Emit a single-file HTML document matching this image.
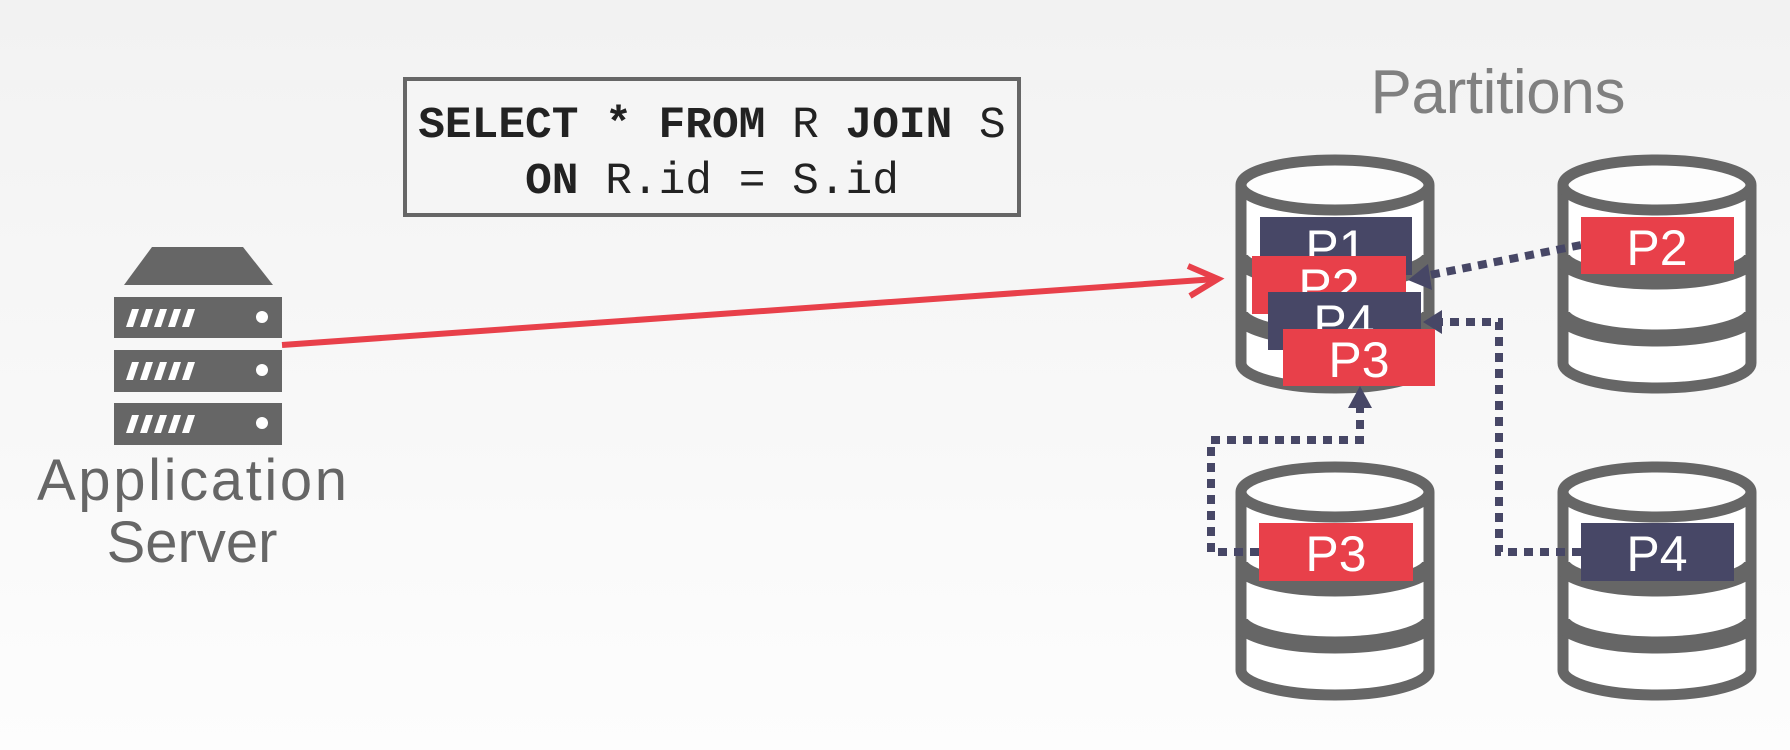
<!DOCTYPE html>
<html><head><meta charset="utf-8"><style>
html,body{margin:0;padding:0;}
body{width:1790px;height:750px;overflow:hidden;background:linear-gradient(#f2f2f2,#fdfdfd);}
svg{display:block;}
</style></head><body>
<svg width="1790" height="750" viewBox="0 0 1790 750">
<defs>
<clipPath id="cc"><rect x="-99.5" y="-40" width="199" height="260"/></clipPath>
<g id="cyl">
  <g clip-path="url(#cc)">
  <path d="M-94,0 L-94,178 A94,25 0 0 0 94,178 L94,0 Z" fill="#fff"/>
  <path d="M-94,0 L-94,178 M94,0 L94,178" stroke="#666" stroke-width="11" fill="none"/>
  <path d="M-96,70 A96,26 0 0 0 96,70" stroke="#666" stroke-width="17" fill="none"/>
  <path d="M-96,127 A96,26 0 0 0 96,127" stroke="#666" stroke-width="17" fill="none"/>
  <path d="M-94,178 A94,25 0 0 0 94,178" stroke="#666" stroke-width="11" fill="none"/>
  </g>
  <ellipse cx="0" cy="0" rx="94" ry="25" fill="#fdfdfd" stroke="#666" stroke-width="11"/>
</g>
</defs>

<g fill="#666">
  <polygon points="152,247 243,247 273,285 124,285"/>
  <rect x="114" y="297" width="168" height="41"/>
  <rect x="114" y="350" width="168" height="42"/>
  <rect x="114" y="403" width="168" height="42"/>
  <g fill="#fff">
    <g id="sl"><polygon points="132,309 139,309 133,327 126,327"/><polygon points="146,309 153,309 147,327 140,327"/><polygon points="160,309 167,309 161,327 154,327"/><polygon points="174,309 181,309 175,327 168,327"/><polygon points="188,309 195,309 189,327 182,327"/><circle cx="262" cy="317" r="6"/></g>
    <use href="#sl" y="53"/>
    <use href="#sl" y="106"/>
  </g>
</g>
<text x="192" y="500" text-anchor="middle" font-family="Liberation Sans, sans-serif" font-size="58" fill="#666" textLength="310">Application</text>
<text x="192" y="562" text-anchor="middle" font-family="Liberation Sans, sans-serif" font-size="58" fill="#666">Server</text>

<g stroke="#E8404A" stroke-width="6" fill="none">
  <line x1="282" y1="345" x2="1216" y2="279"/>
  <polyline points="1188,266 1218,279 1190,296"/>
</g>

<rect x="405" y="79" width="614" height="136" fill="#f5f5f5" stroke="#666" stroke-width="4"/>
<text x="712" y="137" text-anchor="middle" font-family="Liberation Mono, monospace" font-size="44.5" fill="#222"><tspan font-weight="bold">SELECT * FROM</tspan> R <tspan font-weight="bold">JOIN</tspan> S</text>
<text x="712" y="193" text-anchor="middle" font-family="Liberation Mono, monospace" font-size="44.5" fill="#222"><tspan font-weight="bold">ON</tspan> R.id = S.id</text>

<text x="1498" y="113" text-anchor="middle" font-family="Liberation Sans, sans-serif" font-size="62" fill="#808080" textLength="255">Partitions</text>

<use href="#cyl" x="1335" y="185"/>
<use href="#cyl" x="1657" y="185"/>
<use href="#cyl" x="1335" y="492"/>
<use href="#cyl" x="1657" y="492"/>

<g stroke="#474766" stroke-width="8" stroke-dasharray="9 7" fill="none">
  <line x1="1581" y1="245" x2="1420" y2="277"/>
  <polyline points="1581,552 1499,552 1499,322 1435,322"/>
  <polyline points="1259,552 1211,552 1211,440 1360,440 1360,405"/>
</g>
<g fill="#474766">
  <polygon points="1408,280 1428,264 1432,290"/>
  <polygon points="1423,322 1442,310 1442,334"/>
  <polygon points="1360,386 1348,408 1372,408"/>
</g>

<g font-family="Liberation Sans, sans-serif" font-size="50" fill="#fff" text-anchor="middle">
  <rect x="1260" y="217" width="152" height="58" fill="#474766"/>
  <text x="1336" y="265">P1</text>
  <rect x="1252" y="256" width="154" height="58" fill="#E8404A"/>
  <text x="1329" y="304">P2</text>
  <rect x="1268" y="292" width="153" height="58" fill="#474766"/>
  <text x="1344" y="340">P4</text>
  <rect x="1283" y="329" width="152" height="57" fill="#E8404A"/>
  <text x="1359" y="377">P3</text>
  <rect x="1581" y="217" width="153" height="57" fill="#E8404A"/>
  <text x="1657" y="265">P2</text>
  <rect x="1259" y="523" width="154" height="58" fill="#E8404A"/>
  <text x="1336" y="571">P3</text>
  <rect x="1581" y="523" width="153" height="58" fill="#474766"/>
  <text x="1657" y="571">P4</text>
</g>
</svg>
</body></html>
